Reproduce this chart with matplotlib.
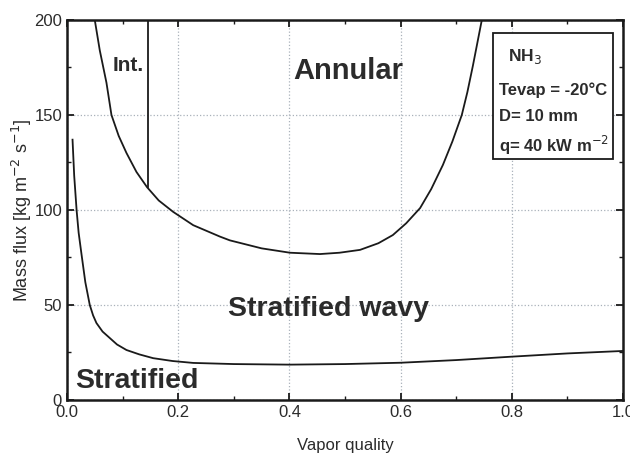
import matplotlib
matplotlib.use("Agg")
import matplotlib.pyplot as plt
from matplotlib.ticker import MultipleLocator, FormatStrFormatter
from matplotlib.patches import Rectangle

plt.rcParams["font.family"] = ["Liberation Sans", "DejaVu Sans"]

# stratified / stratified-wavy boundary
strat_x = [0.010, 0.013, 0.0174, 0.021, 0.026, 0.033, 0.041, 0.047, 0.053, 0.064,
           0.077, 0.09, 0.107, 0.13, 0.155, 0.19, 0.227, 0.3, 0.4, 0.5,
           0.6, 0.7, 0.8, 0.9, 1.0]
strat_g = [137, 118, 99.6, 88, 77, 62, 50, 44.5, 40.5, 36,
           32.6, 29.2, 26.3, 24, 22, 20.5, 19.5, 18.9, 18.6, 18.9,
           19.6, 21, 22.8, 24.5, 25.8]

# stratified-wavy / intermittent-annular boundary
wavy_x = [0.050, 0.059, 0.071, 0.080, 0.093, 0.107, 0.125, 0.144, 0.165, 0.191,
          0.227, 0.275, 0.293, 0.35, 0.401, 0.455, 0.49, 0.527, 0.56, 0.586,
          0.61, 0.635, 0.655, 0.676, 0.693, 0.71, 0.72, 0.73, 0.738, 0.746]
wavy_g = [200, 184, 167, 150, 139, 130, 120, 112, 105, 99,
          92, 86, 84, 79.8, 77.5, 76.8, 77.5, 79, 82.5, 86.8,
          93, 101, 111, 123.7, 136, 150, 162, 176, 188, 200]

# intermittent / annular transition
x_ia = 0.146
int_g = [112, 200]

txt = "#2b2b2b"
ln = "#1a1a1a"

fig = plt.figure(figsize=(6.3, 4.54), dpi=100)
ax = fig.add_axes([0.1063, 0.119, 0.8827, 0.837])

ax.plot(strat_x, strat_g, color=ln, lw=1.3)
ax.plot(wavy_x, wavy_g, color=ln, lw=1.3)
ax.plot([x_ia, x_ia], int_g, color=ln, lw=1.3)

ax.set_xlim(0, 1.0)
ax.set_ylim(0, 200)
ax.xaxis.set_major_locator(MultipleLocator(0.2))
ax.xaxis.set_minor_locator(MultipleLocator(0.1))
ax.xaxis.set_major_formatter(FormatStrFormatter("%.1f"))
ax.yaxis.set_major_locator(MultipleLocator(50))
ax.yaxis.set_minor_locator(MultipleLocator(25))
ax.tick_params(which="both", direction="in", top=True, right=True, colors=ln,
               labelcolor=txt, labelsize=12)
ax.tick_params(which="major", length=5, width=1.3)
ax.tick_params(which="minor", length=3, width=1.0)
ax.grid(True, which="major", linestyle=":", color="#a9b1ba", lw=0.9)
for s in ax.spines.values():
    s.set_linewidth(1.8)
    s.set_color(ln)

ax.set_xlabel("Vapor quality", fontsize=12, color=txt, labelpad=13)
ax.set_ylabel("Mass flux [kg m$^{-2}$ s$^{-1}$]", fontsize=13, color=txt, labelpad=0)

ax.text(0.11, 176, "Int.", fontsize=15, fontweight="bold", color=txt, ha="center", va="center")
ax.text(0.505, 173, "Annular", fontsize=21, fontweight="bold", color=txt, ha="center", va="center")
ax.text(0.47, 48, "Stratified wavy", fontsize=20.5, fontweight="bold", color=txt, ha="center", va="center")
ax.text(0.125, 10, "Stratified", fontsize=20.5, fontweight="bold", color=txt, ha="center", va="center")

# condition box
ax.add_patch(Rectangle((0.766, 0.634), 0.216, 0.332, transform=ax.transAxes,
                       fill=True, fc="white", ec=ln, lw=1.3, zorder=3))
ax.text(0.824, 0.905, "NH$_3$", transform=ax.transAxes, fontsize=12.5, fontweight="bold",
        color=txt, ha="center", va="center", zorder=4)
ax.text(0.776, 0.816, "Tevap = -20°C", transform=ax.transAxes, fontsize=12, fontweight="bold",
        color=txt, ha="left", va="center", zorder=4)
ax.text(0.776, 0.745, "D= 10 mm", transform=ax.transAxes, fontsize=12, fontweight="bold",
        color=txt, ha="left", va="center", zorder=4)
ax.text(0.776, 0.671, "q= 40 kW m$^{-2}$", transform=ax.transAxes, fontsize=12, fontweight="bold",
        color=txt, ha="left", va="center", zorder=4)

fig.savefig("out.png", dpi=100)
